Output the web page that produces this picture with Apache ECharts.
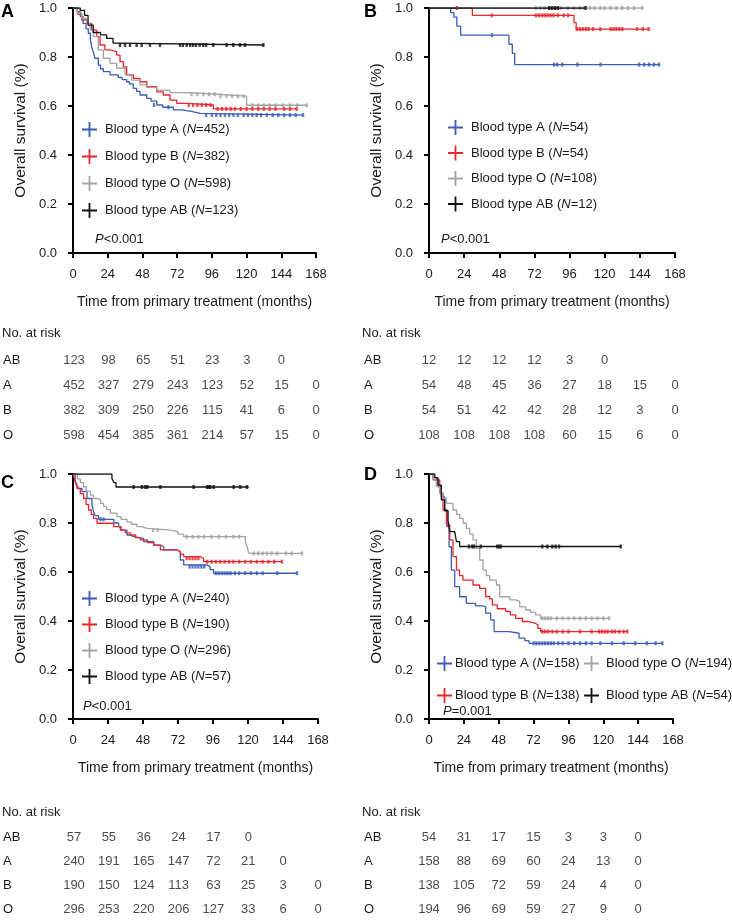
<!DOCTYPE html>
<html><head><meta charset="utf-8">
<script src="https://cdn.jsdelivr.net/npm/echarts@6/dist/echarts.min.js"></script>
<style>html,body{margin:0;padding:0;background:#fff}#c{width:732px;height:921px}</style>
</head><body><div id="c"></div>
<script>
// ---------- shared ----------
const xTicks = [0, 24, 48, 72, 96, 120, 144, 168];
const riskTimes = [0, 24, 48, 72, 96, 120, 144, 168];
const riskGroups = ['AB', 'A', 'B', 'O'];
const groupLabels = ['Blood type A', 'Blood type B', 'Blood type O', 'Blood type AB'];

// ---------- Panel A ----------
const A_N = [452, 382, 598, 123];
const A_curveA = [[0,1],[3,0.985],[5,0.965],[7,0.937],[9,0.915],[10.6,0.897],[12,0.87],[12.9,0.842],[14,0.82],[15.2,0.795],[17.5,0.767],[19,0.752],[21,0.74],[25.6,0.727],[31.3,0.717],[34,0.708],[37.1,0.699],[39,0.69],[41.7,0.672],[44,0.66],[46.3,0.645],[51,0.631],[54,0.62],[57.9,0.604],[62,0.595],[69.4,0.584],[75,0.578],[82,0.57],[87.8,0.563],[159,0.563]];
const A_curveB = [[0,1],[3,0.975],[6,0.951],[9.5,0.937],[12.9,0.91],[16.4,0.883],[18.7,0.849],[22.1,0.829],[25.6,0.822],[30.2,0.808],[32.5,0.781],[34.8,0.76],[37.1,0.727],[41.7,0.713],[46.3,0.699],[51,0.679],[57.9,0.658],[62.4,0.645],[67.1,0.624],[71.7,0.611],[78.6,0.604],[97,0.588],[154.6,0.588]];
const A_curveO = [[0,1],[3,0.98],[6,0.958],[9.5,0.937],[12,0.91],[14,0.883],[17.5,0.829],[21,0.795],[25.6,0.774],[30.2,0.754],[36,0.727],[40.6,0.706],[46.3,0.686],[51,0.676],[57.9,0.665],[67.1,0.655],[80,0.648],[100,0.64],[120,0.603],[161.6,0.603]];
const A_curveAB = [[0,1],[5,0.99],[8,0.97],[10.4,0.93],[14,0.9],[19,0.89],[23.3,0.876],[27.7,0.857],[30.2,0.849],[131.6,0.849]];
const A_censA = [[92,0.563],[96,0.563],[99,0.563],[102,0.563],[105,0.563],[108,0.563],[111,0.563],[114,0.563],[118,0.563],[121,0.563],[124,0.563],[127,0.563],[130,0.563],[134,0.563],[138,0.563],[142,0.563],[146,0.563],[150,0.563],[154,0.563],[159,0.563],[56,0.604],[66,0.595]];
const A_censB = [[80,0.604],[83,0.604],[86,0.604],[89,0.604],[92,0.604],[95,0.604],[100,0.588],[103,0.588],[106,0.588],[109,0.588],[112,0.588],[116,0.588],[120,0.588],[124,0.588],[128,0.588],[132,0.588],[136,0.588],[140,0.588],[146,0.588],[150,0.588],[154.6,0.588]];
const A_censO = [[82,0.648],[86,0.648],[90,0.648],[94,0.648],[98,0.648],[102,0.64],[106,0.64],[110,0.64],[114,0.64],[118,0.64],[124,0.603],[128,0.603],[132,0.603],[136,0.603],[140,0.603],[145,0.603],[150,0.603],[155,0.603],[161.6,0.603]];
const A_censAB = [[32.5,0.849],[36,0.849],[39.4,0.849],[44,0.849],[47.5,0.849],[53.2,0.849],[60.1,0.849],[74,0.849],[76,0.849],[78.6,0.849],[81,0.849],[83,0.849],[85,0.849],[87.6,0.849],[90,0.849],[92,0.849],[97,0.849],[106.2,0.849],[110.8,0.849],[115.4,0.849],[118.9,0.849],[131.6,0.849]];
const A_riskAB = [123, 98, 65, 51, 23, 3, 0];
const A_riskA = [452, 327, 279, 243, 123, 52, 15, 0];
const A_riskB = [382, 309, 250, 226, 115, 41, 6, 0];
const A_riskO = [598, 454, 385, 361, 214, 57, 15, 0];
const A_p = '<0.001';

// ---------- Panel B ----------
const B_N = [54, 54, 108, 12];
const B_curveA = [[0,1],[14.8,0.981],[17,0.963],[19,0.926],[21.6,0.889],[54.6,0.852],[56.9,0.815],[58.5,0.769],[158,0.769]];
const B_curveB = [[0,1],[29.6,0.97],[99,0.94],[100.5,0.914],[150,0.914]];
const B_curveO = [[0,1],[145.7,1]];
const B_curveAB = [[0,1],[107,1]];
const B_censA = [[43,0.889],[85.4,0.769],[87.5,0.769],[91,0.769],[101.3,0.769],[117.2,0.769],[143.4,0.769],[147,0.769],[150.2,0.769],[153.6,0.769],[157,0.769]];
const B_censB = [[19,1],[42.8,0.97],[73,0.97],[75,0.97],[77,0.97],[79,0.97],[81,0.97],[83,0.97],[85,0.97],[88,0.97],[92,0.97],[95,0.97],[101,0.914],[103,0.914],[105,0.914],[107,0.914],[109,0.914],[112,0.914],[117,0.914],[124,0.914],[126,0.914],[128,0.914],[130,0.914],[132,0.914],[142,0.914],[146,0.914],[150,0.914]];
const B_censO = [[73,1],[76,1],[79,1],[82,1],[86,1],[90,1],[95,1],[99,1],[103,1],[106,1],[110,1],[113,1],[117,1],[120,1],[124,1],[128,1],[132,1],[136,1],[140,1],[145.7,1]];
const B_censAB = [[82,1],[84,1],[86,1],[88,1],[107,1]];
const B_riskAB = [12, 12, 12, 12, 3, 0];
const B_riskA = [54, 48, 45, 36, 27, 18, 15, 0];
const B_riskB = [54, 51, 42, 42, 28, 12, 3, 0];
const B_riskO = [108, 108, 108, 108, 60, 15, 6, 0];
const B_p = '<0.001';

// ---------- Panel C ----------
const C_N = [240, 190, 296, 57];
const C_curveA = [[0,1],[1.5,0.97],[2.7,0.955],[4,0.941],[6.2,0.928],[9.6,0.9],[13,0.873],[14.1,0.846],[15.3,0.83],[17.6,0.815],[28,0.8],[31.3,0.785],[33,0.771],[37,0.751],[39.3,0.744],[41.6,0.737],[48.4,0.724],[55.3,0.71],[59.9,0.703],[62.2,0.69],[71.3,0.683],[73.6,0.649],[75.9,0.629],[91.9,0.622],[94,0.61],[96.4,0.595],[153.6,0.595]];
const C_curveB = [[0,1],[1,0.98],[2,0.96],[3,0.94],[5,0.92],[7.3,0.9],[9,0.875],[10.7,0.853],[12.5,0.835],[14.1,0.819],[16.5,0.799],[27.9,0.785],[32.4,0.771],[36,0.76],[39.3,0.751],[43,0.74],[46.2,0.731],[51,0.72],[55.3,0.71],[59.9,0.69],[71.3,0.683],[73.5,0.673],[75.9,0.663],[87.3,0.656],[89.6,0.642],[143.3,0.642]];
const C_curveO = [[0,1],[3,0.98],[5,0.965],[7.3,0.948],[9,0.93],[11.9,0.914],[14,0.9],[16.5,0.894],[19,0.88],[21,0.867],[23,0.855],[25.6,0.84],[30.2,0.826],[33,0.815],[37,0.805],[40,0.795],[43.9,0.785],[47,0.778],[50.8,0.771],[66.7,0.765],[72,0.755],[75.9,0.744],[118.2,0.725],[119.5,0.7],[120.5,0.676],[157,0.676]];
const C_curveAB = [[0,1],[26.7,0.982],[28,0.965],[29.5,0.947],[120.5,0.947]];
const C_censA = [[19,0.815],[21,0.815],[80,0.622],[82,0.622],[84,0.622],[86,0.622],[88,0.622],[90,0.622],[98,0.595],[100,0.595],[102,0.595],[104,0.595],[106,0.595],[108,0.595],[111,0.595],[114,0.595],[118,0.595],[122,0.595],[126,0.595],[130,0.595],[140,0.595],[153.6,0.595]];
const C_censB = [[78,0.656],[80,0.656],[82,0.656],[84,0.656],[86,0.656],[92,0.642],[95,0.642],[98,0.642],[101,0.642],[104,0.642],[107,0.642],[110,0.642],[114,0.642],[118,0.642],[122,0.642],[126,0.642],[130,0.642],[134,0.642],[138,0.642],[143.3,0.642]];
const C_censO = [[55,0.771],[58,0.771],[78,0.744],[82,0.744],[86,0.744],[90,0.744],[95,0.744],[100,0.744],[105,0.744],[110,0.744],[114,0.744],[124,0.676],[127,0.676],[130,0.676],[133,0.676],[136,0.676],[140,0.676],[146,0.676],[150,0.676],[157,0.676]];
const C_censAB = [[41.6,0.947],[47.3,0.947],[49.6,0.947],[51,0.947],[59.9,0.947],[82.7,0.947],[91.9,0.947],[93,0.947],[94.2,0.947],[96.5,0.947],[110.2,0.947],[114.7,0.947],[119.3,0.947]];
const C_riskAB = [57, 55, 36, 24, 17, 0];
const C_riskA = [240, 191, 165, 147, 72, 21, 0];
const C_riskB = [190, 150, 124, 113, 63, 25, 3, 0];
const C_riskO = [296, 253, 220, 206, 127, 33, 6, 0];
const C_p = '<0.001';

// ---------- Panel D ----------
const D_N = [158, 138, 194, 54];
const D_curveA = [[0,1],[2.8,0.976],[6.2,0.948],[8.5,0.907],[10.8,0.853],[12.4,0.785],[13.8,0.703],[15.4,0.608],[17.7,0.54],[21.1,0.499],[25.7,0.472],[32,0.462],[37.2,0.458],[39,0.432],[42.5,0.405],[44.8,0.357],[55,0.35],[62,0.33],[66,0.32],[68.9,0.309],[160.7,0.309]];
const D_curveB = [[0,1],[3,0.985],[5.1,0.976],[7.4,0.921],[9.7,0.853],[12,0.792],[14.3,0.731],[16.5,0.663],[18.9,0.608],[21,0.585],[23.4,0.567],[30.3,0.547],[34.9,0.533],[39,0.5],[41.8,0.49],[43.6,0.466],[47,0.45],[52.8,0.439],[56,0.425],[59.7,0.411],[64.3,0.398],[68,0.39],[73.4,0.384],[75,0.37],[76.9,0.357],[136.6,0.357]];
const D_curveO = [[0,1],[2.8,0.976],[5,0.95],[7.4,0.921],[9.5,0.9],[12,0.88],[16.5,0.853],[19,0.835],[21.1,0.819],[23.5,0.8],[25.7,0.778],[28,0.755],[30.3,0.731],[32.6,0.697],[34.9,0.649],[37.2,0.608],[39.5,0.585],[41.8,0.567],[46.4,0.547],[48.7,0.499],[55.6,0.486],[59.7,0.48],[62.5,0.458],[66.6,0.445],[70,0.435],[73.4,0.425],[76.9,0.411],[124,0.411]];
const D_curveAB = [[0,1],[4,0.985],[6.2,0.955],[8.5,0.894],[10.8,0.85],[13.1,0.81],[14.3,0.765],[17.7,0.758],[18.9,0.724],[21.1,0.704],[132,0.704]];
const D_censA = [[72,0.309],[74,0.309],[76,0.309],[78,0.309],[80,0.309],[82,0.309],[84,0.309],[86,0.309],[89,0.309],[92,0.309],[96,0.309],[100,0.309],[104,0.309],[108,0.309],[112,0.309],[118,0.309],[126,0.309],[134,0.309],[142,0.309],[150,0.309],[156,0.309],[160.7,0.309]];
const D_censB = [[78,0.357],[80,0.357],[82,0.357],[85,0.357],[88,0.357],[92,0.357],[96,0.357],[104,0.357],[112,0.357],[117,0.357],[119,0.357],[121,0.357],[123,0.357],[126,0.357],[128,0.357],[131,0.357],[134,0.357],[136.6,0.357]];
const D_censO = [[78,0.411],[80,0.411],[82,0.411],[84,0.411],[88,0.411],[92,0.411],[96,0.411],[100,0.411],[104,0.411],[108,0.411],[112,0.411],[116,0.411],[120,0.411],[124,0.411]];
const D_censAB = [[27.5,0.704],[29.8,0.704],[31,0.704],[35.6,0.704],[47,0.704],[48.2,0.704],[49.4,0.704],[78,0.704],[81.5,0.704],[84.9,0.704],[87.2,0.704],[89.5,0.704],[132,0.704]];
const D_riskAB = [54, 31, 17, 15, 3, 3, 0];
const D_riskA = [158, 88, 69, 60, 24, 13, 0];
const D_riskB = [138, 105, 72, 59, 24, 4, 0];
const D_riskO = [194, 96, 69, 59, 27, 9, 0];
const D_p = '=0.001';

// ---------- styling ----------
const FONT = 'Liberation Sans, Arial, Helvetica, sans-serif';
const COLORS = ['#3b5cb8', '#e8262c', '#a3a3a3', '#111111'];
const PLUS = 'path://M4.4,0h1.2v4.4h4.4v1.2h-4.4v4.4h-1.2v-4.4h-4.4v-1.2h4.4z';

const panels = [
  { key: 'A', N: A_N, curves: [A_curveA, A_curveB, A_curveO, A_curveAB], cens: [A_censA, A_censB, A_censO, A_censAB],
    risk: [A_riskAB, A_riskA, A_riskB, A_riskO], p: A_p,
    grid: { left: 73, top: 8, width: 243, height: 245 }, table: { left: 73, top: 347.5, width: 243, height: 100 },
    letter: { left: 1, top: 3 }, nar: { left: 2, top: 327 }, pPos: { left: 95, top: 233 },
    legends: [{ idx: [0,1,2,3], left: 82, top: 122, gap: 12, pad: 3 }], rowMargin: 71 },
  { key: 'B', N: B_N, curves: [B_curveA, B_curveB, B_curveO, B_curveAB], cens: [B_censA, B_censB, B_censO, B_censAB],
    risk: [B_riskAB, B_riskA, B_riskB, B_riskO], p: B_p,
    grid: { left: 429, top: 8, width: 246, height: 245 }, table: { left: 429, top: 347.5, width: 246, height: 100 },
    letter: { left: 364, top: 3 }, nar: { left: 362, top: 327 }, pPos: { left: 441, top: 233 },
    legends: [{ idx: [0,1,2,3], left: 448, top: 120, gap: 10.5, pad: 3 }], rowMargin: 65 },
  { key: 'C', N: C_N, curves: [C_curveA, C_curveB, C_curveO, C_curveAB], cens: [C_censA, C_censB, C_censO, C_censAB],
    risk: [C_riskAB, C_riskA, C_riskB, C_riskO], p: C_p,
    grid: { left: 73, top: 474, width: 245, height: 245 }, table: { left: 73, top: 825.5, width: 245, height: 100 },
    letter: { left: 1, top: 474 }, nar: { left: 2, top: 806 }, pPos: { left: 83, top: 700 },
    legends: [{ idx: [0,1,2,3], left: 82, top: 591, gap: 11, pad: 3 }], rowMargin: 71 },
  { key: 'D', N: D_N, curves: [D_curveA, D_curveB, D_curveO, D_curveAB], cens: [D_censA, D_censB, D_censO, D_censAB],
    risk: [D_riskAB, D_riskA, D_riskB, D_riskO], p: D_p,
    grid: { left: 429, top: 474, width: 244, height: 245 }, table: { left: 429, top: 825.5, width: 244, height: 100 },
    letter: { left: 364, top: 466 }, nar: { left: 362, top: 806 }, pPos: { left: 443, top: 705 },
    legends: [{ idx: [0,1], left: 437, top: 656, gap: 17, pad: -2 }, { idx: [2,3], left: 584, top: 656, gap: 17, pad: 2 }], rowMargin: 65 }
];

const option = {
  animation: false,
  backgroundColor: '#fff',
  textStyle: { fontFamily: FONT, color: '#1a1a1a' },
  grid: [], xAxis: [], yAxis: [], series: [], legend: [], title: []
};

function legendFormatter(name) {
  const m = name.match(/^(.*)\(N=(\d+)\)$/);
  return '{t|' + m[1] + '(}{i|N}{t|=' + m[2] + ')}';
}

panels.forEach((P, pi) => {
  const gPlot = option.grid.length;
  option.grid.push(Object.assign({ containLabel: false }, P.grid));
  option.xAxis.push({
    gridIndex: gPlot, type: 'value', min: 0, max: 168, interval: 24,
    name: 'Time from primary treatment (months)', nameLocation: 'middle', nameGap: 42,
    nameTextStyle: { fontSize: 14, fontFamily: FONT, color: '#1a1a1a' },
    axisLine: { show: true, onZero: false, lineStyle: { color: '#000', width: 2 } },
    axisTick: { show: true, length: 5, lineStyle: { color: '#000', width: 2 } },
    axisLabel: { fontSize: 13, margin: 15, color: '#1a1a1a', fontFamily: FONT },
    splitLine: { show: false }
  });
  option.yAxis.push({
    gridIndex: gPlot, type: 'value', min: 0, max: 1, interval: 0.2,
    name: 'Overall survival (%)', nameLocation: 'middle', nameGap: 44,
    nameTextStyle: { fontSize: 15.5, fontFamily: FONT, color: '#1a1a1a' },
    axisLine: { show: true, onZero: false, lineStyle: { color: '#000', width: 2 } },
    axisTick: { show: true, length: 5, lineStyle: { color: '#000', width: 2 } },
    axisLabel: { fontSize: 13, margin: 16, color: '#1a1a1a', fontFamily: FONT, formatter: v => v.toFixed(1) },
    splitLine: { show: false }
  });
  const axIdx = option.xAxis.length - 1;
  const names = groupLabels.map((g, i) => g + ' (N=' + P.N[i] + ')');
  [2, 1, 0, 3].forEach(i => {
    option.series.push({
      type: 'line', name: names[i], step: 'end', xAxisIndex: axIdx, yAxisIndex: axIdx,
      data: P.curves[i], showSymbol: false, symbol: 'none', color: COLORS[i],
      lineStyle: { width: 1.3, color: COLORS[i] }, z: 3 + i, silent: true
    });
    option.series.push({
      type: 'scatter', name: names[i] + ' censored', xAxisIndex: axIdx, yAxisIndex: axIdx,
      data: P.cens[i], symbol: 'rect', symbolSize: [2.4, 4], itemStyle: { color: COLORS[i] }, z: 3 + i, silent: true
    });
  });
  P.legends.forEach(L => {
    option.legend.push({
      orient: 'vertical', left: L.left, top: L.top, itemGap: L.gap, itemWidth: 15, itemHeight: 15,
      icon: PLUS, selectedMode: false, padding: 0,
      data: L.idx.map(i => ({ name: names[i], icon: PLUS, itemStyle: { color: COLORS[i] } })),
      formatter: legendFormatter,
      textStyle: { padding: [0, 0, 0, L.pad], rich: {
        t: { fontSize: 13, fontFamily: FONT, color: '#1a1a1a' },
        i: { fontSize: 13, fontFamily: FONT, fontStyle: 'italic', color: '#1a1a1a' } } }
    });
  });
  const gTab = option.grid.length;
  option.grid.push(Object.assign({ containLabel: false }, P.table));
  option.xAxis.push({ gridIndex: gTab, type: 'value', min: 0, max: 168, interval: 24, show: false });
  option.yAxis.push({
    gridIndex: gTab, type: 'category', data: riskGroups, inverse: true,
    axisLine: { show: false }, axisTick: { show: false }, splitLine: { show: false },
    axisLabel: { align: 'left', margin: P.rowMargin, fontSize: 13, color: '#1a1a1a', fontFamily: FONT }
  });
  const tIdx = option.xAxis.length - 1;
  const cells = [];
  P.risk.forEach((row, r) => row.forEach((v, k) => cells.push([riskTimes[k], r, v])));
  option.series.push({
    type: 'scatter', xAxisIndex: tIdx, yAxisIndex: tIdx, data: cells, symbolSize: 1,
    itemStyle: { color: 'rgba(0,0,0,0)' }, silent: true,
    label: { show: true, position: 'inside', formatter: p => String(p.value[2]), fontSize: 13, color: '#1a1a1a', fontFamily: FONT }
  });
  option.title.push({ text: P.key, left: P.letter.left, top: P.letter.top, padding: 0,
    textStyle: { fontSize: 18, fontWeight: 'bold', fontFamily: FONT, color: '#000' } });
  option.title.push({ text: 'No. at risk', left: P.nar.left, top: P.nar.top, padding: 0,
    textStyle: { fontSize: 13, fontWeight: 'normal', fontFamily: FONT, color: '#1a1a1a' } });
  option.title.push({ text: '{i|P}{t|' + P.p + '}', left: P.pPos.left, top: P.pPos.top, padding: 0,
    textStyle: { fontWeight: 'normal', rich: {
      i: { fontSize: 13, fontStyle: 'italic', fontWeight: 'normal', fontFamily: FONT, color: '#1a1a1a' },
      t: { fontSize: 13, fontWeight: 'normal', fontFamily: FONT, color: '#1a1a1a' } } } });
});

const chart = echarts.init(document.getElementById('c'), null, { renderer: 'canvas' });
chart.setOption(option);
</script>
</body></html>
